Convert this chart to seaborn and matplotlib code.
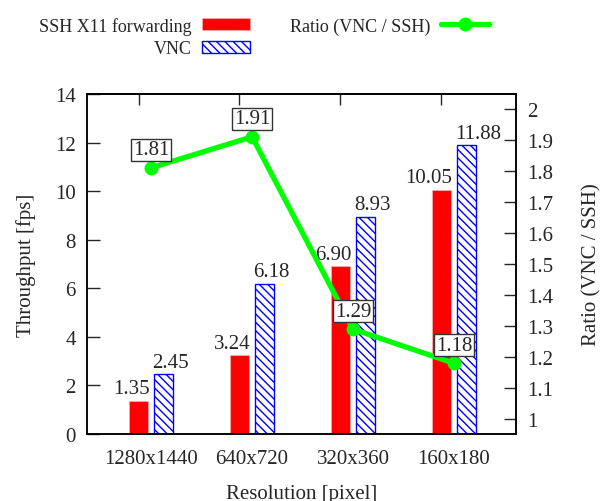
import matplotlib
matplotlib.use('Agg')
import matplotlib.pyplot as plt
from matplotlib.ticker import FormatStrFormatter, MultipleLocator
import numpy as np
import pandas as pd
import seaborn as sns

# Data
resolutions = ['1280x1440', '640x720', '320x360', '160x180']
ssh_fps = [1.35, 3.24, 6.90, 10.05]
vnc_fps = [2.45, 6.18, 8.93, 11.88]
ratio = [1.81, 1.91, 1.29, 1.18]
methods = ['SSH X11 forwarding', 'VNC']

df = pd.DataFrame({
    'res': resolutions * 2,
    'fps': ssh_fps + vnc_fps,
    'method': [methods[0]] * 4 + [methods[1]] * 4,
})

sns.set_theme(style='white')
plt.rcParams['font.family'] = ['Liberation Serif', 'DejaVu Serif']
plt.rcParams['font.size'] = 15
plt.rcParams['hatch.color'] = 'blue'
plt.rcParams['hatch.linewidth'] = 1.0
plt.rcParams['axes.linewidth'] = 1.1
plt.rcParams['axes.edgecolor'] = 'black'

fig = plt.figure(figsize=(6.06, 5.02), dpi=100)
ax = fig.add_axes([0.1436, 0.1335, 0.7079, 0.6773])

sns.barplot(data=df, x='res', y='fps', hue='method', palette=['red', 'white'],
            width=0.5, gap=0.24, ax=ax, legend=False, saturation=1)

for bar in ax.containers[1]:
    bar.set_facecolor('white')
    bar.set_edgecolor('blue')
    bar.set_hatch('\\\\\\\\')
    bar.set_linewidth(1.0)
for bar in ax.containers[0]:
    bar.set_edgecolor('#ffb0b0')
    bar.set_linewidth(0.5)

# value labels above the bars
for bar, v in zip(ax.containers[0], ssh_fps):
    ax.annotate(f'{v:.2f}', (bar.get_x() + bar.get_width() / 2, bar.get_height()),
                xytext=(8, 2), textcoords='offset points', ha='right', va='bottom',
                fontsize=15)
for bar, v in zip(ax.containers[1], vnc_fps):
    ax.annotate(f'{v:.2f}', (bar.get_x() + bar.get_width() / 2, bar.get_height()),
                xytext=(-8, 2), textcoords='offset points', ha='left', va='bottom',
                fontsize=15)

ax.set_xlim(-0.635, 3.615)
ax.set_ylim(0, 14)
ax.yaxis.set_major_locator(MultipleLocator(2))
ax.tick_params(axis='y', direction='in', length=9, width=1, pad=8, labelsize=15,
               left=True, right=False)
ax.tick_params(axis='x', length=0, pad=11, labelsize=15)
ax.set_xlabel('Resolution [pixel]', fontsize=15, labelpad=11)
ax.set_ylabel('Throughput [fps]', fontsize=15, labelpad=14)

top = ax.secondary_xaxis('top')
top.set_xticks(np.arange(len(resolutions)) - 0.125)
top.set_xticklabels([])
top.tick_params(direction='in', length=8, width=1)

# ratio on the second y axis
ax2 = ax.twinx()
sns.lineplot(x=np.arange(len(resolutions)), y=ratio, ax=ax2, color='#00ff00',
             linewidth=3.8, marker='o', markersize=10, markeredgewidth=0,
             label='Ratio (VNC / SSH)', legend=False)
for i, r in enumerate(ratio):
    ax2.annotate(f'{r:.2f}', (i, r), xytext=(0, 13), textcoords='offset points',
                 ha='center', va='center', fontsize=15,
                 bbox=dict(boxstyle='square,pad=0.08', fc='white', ec='#333333', lw=1))
ax2.set_ylim(0.952, 2.048)
ax2.set_yticks(np.arange(1.0, 2.01, 0.1))
ax2.yaxis.set_major_formatter(FormatStrFormatter('%g'))
ax2.tick_params(axis='y', direction='in', length=9, width=1, pad=8, labelsize=15)
ax2.set_ylabel('Ratio (VNC / SSH)', fontsize=15, labelpad=21)
ax2.set_xlabel('')
ax.set_xlim(-0.635, 3.615)

handles = [ax.containers[0], ax.containers[1], ax2.get_lines()[0]]
labels = methods + ['Ratio (VNC / SSH)']
fig.legend(handles, labels, loc='upper center', bbox_to_anchor=(0.436, 0.99),
           ncol=2, frameon=False, markerfirst=False, fontsize=13,
           handlelength=2.7, handleheight=0.65, handletextpad=0.55,
           columnspacing=2.2, labelspacing=0.3, borderaxespad=0.3)

fig.savefig('out.png', dpi=100)
